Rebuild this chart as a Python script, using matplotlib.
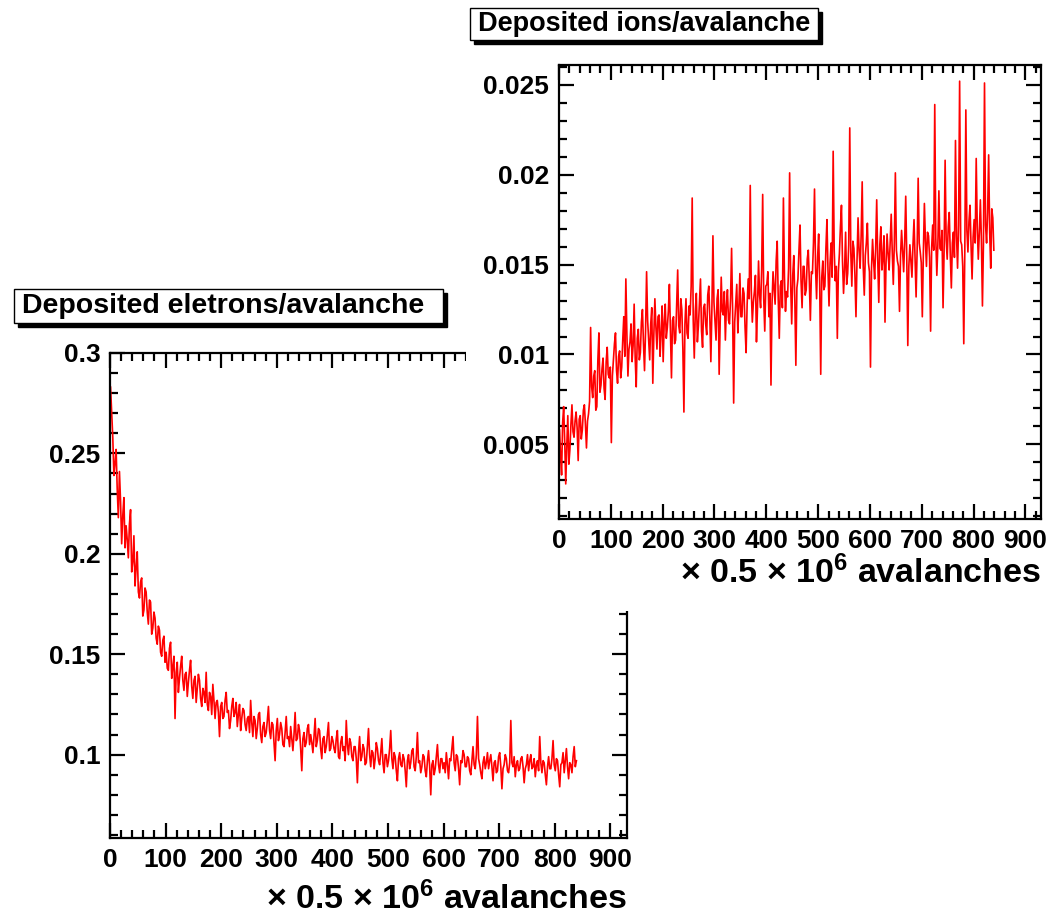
import numpy as np
import matplotlib
matplotlib.use("Agg")
import matplotlib.pyplot as plt
from matplotlib.patches import Rectangle
from matplotlib.ticker import MultipleLocator, FuncFormatter
from matplotlib.transforms import offset_copy

plt.rcParams["font.family"] = "Liberation Sans"
plt.rcParams["font.weight"] = "bold"
plt.rcParams["mathtext.fontset"] = "custom"
plt.rcParams["mathtext.rm"] = "Liberation Sans:bold"
plt.rcParams["mathtext.it"] = "Liberation Sans:bold"
plt.rcParams["mathtext.bf"] = "Liberation Sans:bold"

# sample index (every 2nd point of the run, in units of 0.5e6 avalanches)
step = np.arange(1, 841, 2)

electrons = [
    0.283, 0.271, 0.258, 0.239, 0.245, 0.252, 0.232, 0.218, 0.241, 0.226, 0.205, 0.219, 0.228, 0.203, 0.214, 0.207, 0.198, 0.215, 0.222, 0.191,
    0.196, 0.209, 0.184, 0.193, 0.201, 0.181, 0.178, 0.186, 0.188, 0.169, 0.172, 0.183, 0.181, 0.171, 0.165, 0.177, 0.176, 0.160, 0.163, 0.171,
    0.168, 0.158, 0.155, 0.164, 0.162, 0.151, 0.149, 0.157, 0.159, 0.146, 0.151, 0.143, 0.142, 0.153, 0.156, 0.138, 0.144, 0.149, 0.118, 0.141,
    0.146, 0.131, 0.138, 0.144, 0.149, 0.137, 0.132, 0.140, 0.141, 0.129, 0.136, 0.142, 0.147, 0.134, 0.128, 0.137, 0.139, 0.126, 0.133, 0.140,
    0.137, 0.128, 0.124, 0.133, 0.131, 0.126, 0.141, 0.125, 0.122, 0.131, 0.129, 0.120, 0.135, 0.127, 0.118, 0.126, 0.127, 0.121, 0.109, 0.124,
    0.126, 0.118, 0.119, 0.127, 0.131, 0.121, 0.122, 0.113, 0.117, 0.124, 0.128, 0.119, 0.121, 0.126, 0.114, 0.120, 0.125, 0.112, 0.118, 0.123,
    0.122, 0.115, 0.112, 0.118, 0.119, 0.111, 0.127, 0.116, 0.109, 0.119, 0.117, 0.108, 0.113, 0.120, 0.121, 0.110, 0.106, 0.114, 0.116, 0.109,
    0.111, 0.117, 0.124, 0.112, 0.108, 0.116, 0.115, 0.106, 0.097, 0.112, 0.118, 0.107, 0.110, 0.116, 0.113, 0.105, 0.104, 0.111, 0.119, 0.108,
    0.109, 0.104, 0.114, 0.108, 0.102, 0.110, 0.121, 0.107, 0.108, 0.115, 0.112, 0.103, 0.092, 0.108, 0.111, 0.104, 0.106, 0.113, 0.115, 0.105,
    0.110, 0.106, 0.101, 0.109, 0.118, 0.104, 0.107, 0.113, 0.112, 0.103, 0.098, 0.108, 0.109, 0.101, 0.104, 0.110, 0.116, 0.102, 0.103, 0.109,
    0.107, 0.103, 0.101, 0.108, 0.112, 0.099, 0.098, 0.106, 0.109, 0.102, 0.104, 0.097, 0.117, 0.105, 0.100, 0.108, 0.106, 0.099, 0.097, 0.104,
    0.104, 0.098, 0.086, 0.101, 0.109, 0.097, 0.099, 0.105, 0.103, 0.095, 0.096, 0.104, 0.113, 0.100, 0.094, 0.102, 0.101, 0.093, 0.098, 0.106,
    0.103, 0.097, 0.095, 0.101, 0.108, 0.096, 0.091, 0.100, 0.100, 0.094, 0.097, 0.103, 0.112, 0.098, 0.093, 0.101, 0.099, 0.092, 0.087, 0.098,
    0.101, 0.095, 0.094, 0.100, 0.098, 0.092, 0.084, 0.097, 0.100, 0.093, 0.096, 0.102, 0.103, 0.094, 0.092, 0.099, 0.111, 0.096, 0.097, 0.091,
    0.094, 0.100, 0.099, 0.092, 0.089, 0.097, 0.102, 0.094, 0.080, 0.095, 0.097, 0.090, 0.093, 0.099, 0.105, 0.095, 0.091, 0.098, 0.098, 0.093,
    0.096, 0.091, 0.101, 0.095, 0.088, 0.098, 0.097, 0.103, 0.109, 0.096, 0.092, 0.100, 0.099, 0.093, 0.085, 0.097, 0.096, 0.102, 0.100, 0.094,
    0.094, 0.099, 0.098, 0.092, 0.090, 0.097, 0.104, 0.095, 0.093, 0.100, 0.119, 0.098, 0.095, 0.091, 0.088, 0.096, 0.099, 0.093, 0.096, 0.101,
    0.093, 0.097, 0.100, 0.094, 0.087, 0.096, 0.097, 0.091, 0.092, 0.099, 0.101, 0.094, 0.083, 0.093, 0.095, 0.100, 0.098, 0.092, 0.091, 0.096,
    0.117, 0.096, 0.094, 0.099, 0.089, 0.095, 0.097, 0.092, 0.093, 0.098, 0.099, 0.094, 0.086, 0.093, 0.095, 0.100, 0.092, 0.097, 0.100, 0.093,
    0.094, 0.098, 0.089, 0.095, 0.097, 0.092, 0.109, 0.096, 0.091, 0.097, 0.096, 0.090, 0.085, 0.094, 0.099, 0.093, 0.093, 0.098, 0.107, 0.095,
    0.092, 0.098, 0.097, 0.090, 0.084, 0.095, 0.096, 0.101, 0.091, 0.097, 0.103, 0.094, 0.088, 0.096, 0.095, 0.091, 0.099, 0.104, 0.094, 0.097,
]

ions = [
    0.0058, 0.0044, 0.0033, 0.0062, 0.0071, 0.0052, 0.0028, 0.0049, 0.0066, 0.0039, 0.0047, 0.0061, 0.0072, 0.0057, 0.0054, 0.0063, 0.0068, 0.0059, 0.0041, 0.0064,
    0.0066, 0.0053, 0.0058, 0.0069, 0.0072, 0.0061, 0.0048, 0.0063, 0.0067, 0.0074, 0.0115, 0.0082, 0.0076, 0.0088, 0.0091, 0.0069, 0.0071, 0.0097, 0.0112, 0.0079,
    0.0083, 0.0092, 0.0098, 0.0081, 0.0075, 0.0096, 0.0104, 0.0089, 0.0087, 0.0093, 0.0051, 0.0088, 0.0097, 0.0106, 0.0112, 0.0091, 0.0084, 0.0099, 0.0102, 0.0087,
    0.0093, 0.0108, 0.0121, 0.0099, 0.0142, 0.0111, 0.0088, 0.0103, 0.0107, 0.0117, 0.0096, 0.0105, 0.0128, 0.0098, 0.0082, 0.0109, 0.0114, 0.0097, 0.0101, 0.0118,
    0.0125, 0.0106, 0.0091, 0.0113, 0.0146, 0.0119, 0.0108, 0.0097, 0.0117, 0.0126, 0.0084, 0.0111, 0.0131, 0.0115, 0.0103, 0.0121, 0.0122, 0.0099, 0.0112, 0.0127,
    0.0096, 0.0118, 0.0128, 0.0109, 0.0115, 0.0124, 0.0139, 0.0113, 0.0087, 0.0119, 0.0121, 0.0106, 0.0108, 0.0127, 0.0147, 0.0116, 0.0112, 0.0131, 0.0125, 0.0103,
    0.0068, 0.0117, 0.0131, 0.0112, 0.0109, 0.0127, 0.0122, 0.0138, 0.0187, 0.0119, 0.0098, 0.0124, 0.0134, 0.0107, 0.0116, 0.0129, 0.0142, 0.0113, 0.0104, 0.0126,
    0.0128, 0.0117, 0.0111, 0.0133, 0.0138, 0.0121, 0.0096, 0.0125, 0.0166, 0.0129, 0.0119, 0.0108, 0.0131, 0.0136, 0.0089, 0.0118, 0.0143, 0.0124, 0.0122, 0.0135,
    0.0108, 0.0127, 0.0136, 0.0119, 0.0117, 0.0131, 0.0159, 0.0124, 0.0073, 0.0118, 0.0128, 0.0139, 0.0112, 0.0126, 0.0145, 0.0121, 0.0121, 0.0137, 0.0134, 0.0115,
    0.0101, 0.0128, 0.0142, 0.0131, 0.0194, 0.0136, 0.0118, 0.0129, 0.0135, 0.0144, 0.0107, 0.0126, 0.0152, 0.0133, 0.0126, 0.0147, 0.0189, 0.0131, 0.0113, 0.0138,
    0.0139, 0.0146, 0.0121, 0.0134, 0.0083, 0.0128, 0.0146, 0.0137, 0.0128, 0.0152, 0.0163, 0.0131, 0.0109, 0.0138, 0.0141, 0.0126, 0.0187, 0.0143, 0.0124, 0.0135,
    0.0132, 0.0148, 0.0201, 0.0139, 0.0117, 0.0144, 0.0155, 0.0131, 0.0094, 0.0137, 0.0142, 0.0158, 0.0172, 0.0141, 0.0126, 0.0149, 0.0149, 0.0133, 0.0136, 0.0153,
    0.0158, 0.0141, 0.0119, 0.0146, 0.0145, 0.0162, 0.0192, 0.0148, 0.0131, 0.0154, 0.0167, 0.0139, 0.0089, 0.0143, 0.0152, 0.0136, 0.0138, 0.0159, 0.0175, 0.0147,
    0.0127, 0.0151, 0.0162, 0.0143, 0.0213, 0.0158, 0.0141, 0.0149, 0.0109, 0.0146, 0.0156, 0.0171, 0.0183, 0.0152, 0.0134, 0.0147, 0.0168, 0.0139, 0.0145, 0.0161,
    0.0226, 0.0157, 0.0138, 0.0163, 0.0159, 0.0144, 0.0121, 0.0152, 0.0176, 0.0158, 0.0148, 0.0166, 0.0196, 0.0149, 0.0133, 0.0155, 0.0162, 0.0173, 0.0151, 0.0146,
    0.0093, 0.0148, 0.0164, 0.0152, 0.0142, 0.0159, 0.0186, 0.0153, 0.0129, 0.0161, 0.0171, 0.0147, 0.0154, 0.0166, 0.0118, 0.0151, 0.0167, 0.0156, 0.0147, 0.0163,
    0.0178, 0.0157, 0.0139, 0.0162, 0.0201, 0.0158, 0.0152, 0.0149, 0.0124, 0.0155, 0.0169, 0.0158, 0.0146, 0.0163, 0.0188, 0.0154, 0.0105, 0.0149, 0.0161, 0.0152,
    0.0143, 0.0161, 0.0175, 0.0154, 0.0132, 0.0158, 0.0198, 0.0162, 0.0157, 0.0151, 0.0121, 0.0156, 0.0184, 0.0163, 0.0149, 0.0168, 0.0166, 0.0154, 0.0113, 0.0159,
    0.0172, 0.0158, 0.0239, 0.0165, 0.0144, 0.0161, 0.0191, 0.0159, 0.0158, 0.0169, 0.0126, 0.0157, 0.0208, 0.0164, 0.0153, 0.0171, 0.0179, 0.0155, 0.0137, 0.0162,
    0.0168, 0.0154, 0.0219, 0.0166, 0.0148, 0.0172, 0.0252, 0.0163, 0.0161, 0.0149, 0.0106, 0.0158, 0.0236, 0.0169, 0.0157, 0.0174, 0.0183, 0.0161, 0.0142, 0.0165,
    0.0175, 0.0162, 0.0209, 0.0171, 0.0153, 0.0168, 0.0186, 0.0164, 0.0127, 0.0163, 0.0251, 0.0172, 0.0162, 0.0179, 0.0211, 0.0168, 0.0148, 0.0181, 0.0176, 0.0158,
]

xlabel = "× 0.5 × 10$^{6}$ avalanches"
title_e = "Deposited eletrons/avalanche"
title_i = "Deposited ions/avalanche"

W, H = 1059, 918
fig = plt.figure(figsize=(W / 100, H / 100), dpi=100)
fig.patch.set_facecolor("white")


def rect(x0, y0, x1, y1):
    # pixel box (origin top-left) -> figure fraction [l, b, w, h]
    return [x0 / W, 1 - y1 / H, (x1 - x0) / W, (y1 - y0) / H]


def style(ax, ymaj, ymin, label_drop):
    ax.set_xlim(0, 930)
    ax.xaxis.set_major_locator(MultipleLocator(100))
    ax.xaxis.set_minor_locator(MultipleLocator(20))
    ax.yaxis.set_major_locator(MultipleLocator(ymaj))
    ax.yaxis.set_minor_locator(MultipleLocator(ymin))
    fmt = FuncFormatter(lambda v, p: f"{v:g}")
    ax.xaxis.set_major_formatter(fmt)
    ax.yaxis.set_major_formatter(fmt)
    ax.tick_params(which="both", direction="in", top=True, right=True,
                   width=1.6, labelsize=19, pad=7)
    ax.tick_params(which="major", length=11)
    ax.tick_params(which="minor", length=5.5)
    for s in ax.spines.values():
        s.set_linewidth(1.6)
    lab = ax.text(1.0, 0.0, xlabel, fontsize=24.5, ha="right", va="baseline",
                  transform=offset_copy(ax.transAxes, fig=fig, y=-label_drop, units="dots"))
    lab.set_clip_on(False)


def title_box(x0, y0, x1, y1, text, size):
    l, b, w, h = rect(x0, y0, x1, y1)
    sh = Rectangle((l + 4 / W, b - 4 / H), w, h, transform=fig.transFigure,
                   facecolor="black", edgecolor="black", zorder=20)
    bx = Rectangle((l, b), w, h, transform=fig.transFigure,
                   facecolor="white", edgecolor="black", lw=1.0, zorder=21)
    fig.add_artist(sh)
    fig.add_artist(bx)
    fig.text(l + 8 / W, b + h / 2, text, fontsize=size, ha="left", va="center",
             zorder=22)


# electrons (lower-left pad)
ax1 = fig.add_axes(rect(110, 353, 627, 838), zorder=1)
ax1.plot(step, electrons, color="#ff0000", lw=1.2)
ax1.set_ylim(0.0585, 0.3)
style(ax1, 0.05, 0.01, 71)

# upper-right pad background hides the corner of the first frame
pad = fig.add_axes(rect(466, 0, W, 611), zorder=2)
pad.set_facecolor("white")
pad.set_xticks([])
pad.set_yticks([])
for s in pad.spines.values():
    s.set_visible(False)

# ions (upper-right pad)
ax2 = fig.add_axes(rect(559, 65, 1041, 519), zorder=3)
ax2.plot(step, ions, color="#ff0000", lw=1.2)
ax2.set_ylim(0.00085, 0.0261)
style(ax2, 0.005, 0.001, 64)

title_box(14, 289, 443, 323, title_e, 20.5)
title_box(470, 8, 818, 40, title_i, 19.5)

fig.savefig("out.png", dpi=100, facecolor="white")
